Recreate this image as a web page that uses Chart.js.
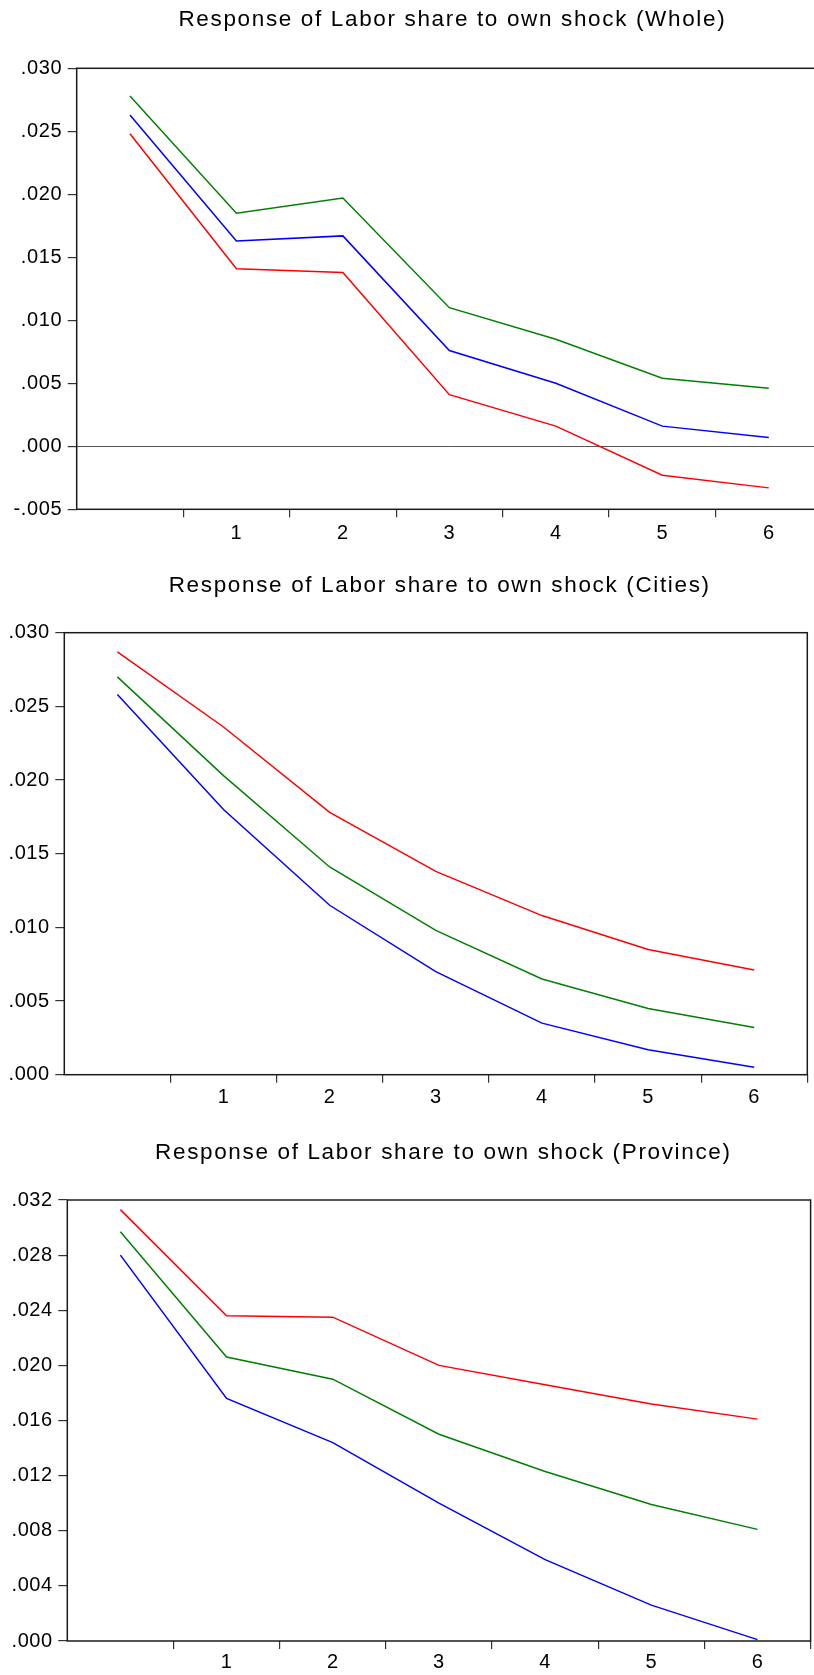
<!DOCTYPE html>
<html>
<head>
<meta charset="utf-8">
<script src="https://cdn.jsdelivr.net/npm/chart.js@4.4.1/dist/chart.umd.min.js"></script>
<style>
  html, body { margin: 0; padding: 0; background: #fff; overflow: hidden; width: 814px; height: 1675px; }
  body { position: relative; }
  canvas { position: absolute; left: 0; }
</style>
</head>
<body>
<canvas id="whole" width="830" height="560" style="top:0px"></canvas>
<canvas id="cities" width="814" height="560" style="top:560px"></canvas>
<canvas id="province" width="814" height="555" style="top:1120px"></canvas>
<script>
// Impulse-response horizon (period 0 is the impact period, left unlabelled)
const periods = [0, 1, 2, 3, 4, 5, 6];
const periodLabels = ['1', '2', '3', '4', '5', '6'];

// Whole sample
const wholeGreen = [0.0278, 0.0185, 0.0197, 0.0110, 0.0085, 0.0054, 0.0046];
const wholeBlue  = [0.0263, 0.0163, 0.0167, 0.0076, 0.0050, 0.0016, 0.0007];
const wholeRed   = [0.0248, 0.0141, 0.0138, 0.0041, 0.0016, -0.0023, -0.0033];
const wholeTicks = [-0.005, 0.000, 0.005, 0.010, 0.015, 0.020, 0.025, 0.030];

// Cities
const citiesRed   = [0.0287, 0.0236, 0.0178, 0.0138, 0.0108, 0.0085, 0.0071];
const citiesGreen = [0.0270, 0.0203, 0.0141, 0.0098, 0.0065, 0.0045, 0.0032];
const citiesBlue  = [0.0258, 0.0180, 0.0115, 0.0070, 0.0035, 0.0017, 0.0005];
const citiesTicks = [0.000, 0.005, 0.010, 0.015, 0.020, 0.025, 0.030];

// Province
const provinceRed   = [0.0313, 0.0236, 0.0235, 0.0200, 0.0186, 0.0172, 0.0161];
const provinceGreen = [0.0297, 0.0206, 0.0190, 0.0150, 0.0123, 0.0099, 0.0081];
const provinceBlue  = [0.0280, 0.0176, 0.0144, 0.0100, 0.0059, 0.0026, 0.0001];
const provinceTicks = [0.000, 0.004, 0.008, 0.012, 0.016, 0.020, 0.024, 0.028, 0.032];

const GREEN = '#008000', BLUE = '#0000ff', RED = '#ff0000';
const FONT = '"Liberation Sans", Arial, Helvetica, sans-serif';

Chart.defaults.font.family = FONT;
Chart.defaults.color = '#000';

// ".030" / "-.005" style labels
function fmt(v) {
  const s = Math.abs(v).toFixed(3).replace(/^0/, '');
  return (v < 0 ? '-' : '') + s;
}

// slightly wider glyph spacing for axis text
const spacingPlugin = {
  id: 'spacing',
  beforeDraw(chart) { chart.ctx.letterSpacing = '0.6px'; }
};

// horizontal reference line at zero
const zeroLinePlugin = {
  id: 'zeroLine',
  beforeDatasetsDraw(chart, args, opts) {
    if (!opts.show) return;
    const { ctx, chartArea: a, scales } = chart;
    const y = Math.round(scales.y.getPixelForValue(0)) + 0.5;
    ctx.save();
    ctx.strokeStyle = '#555';
    ctx.lineWidth = 1;
    ctx.beginPath();
    ctx.moveTo(a.left, y);
    ctx.lineTo(a.right, y);
    ctx.stroke();
    ctx.restore();
  }
};

// box around the plotting area
const framePlugin = {
  id: 'frame',
  afterDraw(chart) {
    const { ctx, chartArea: a } = chart;
    ctx.save();
    ctx.strokeStyle = '#1a1a1a';
    ctx.lineWidth = 1.5;
    ctx.strokeRect(a.left, a.top, a.right - a.left, a.bottom - a.top);
    ctx.restore();
  }
};

// panel heading centred over the plotting area
const headingPlugin = {
  id: 'heading',
  afterDraw(chart, args, opts) {
    const { ctx, chartArea: a } = chart;
    ctx.save();
    ctx.font = '22.5px ' + FONT;
    ctx.letterSpacing = '1.65px';
    ctx.fillStyle = '#000';
    ctx.textAlign = 'center';
    ctx.textBaseline = 'alphabetic';
    ctx.fillText(opts.text, (a.left + a.right) / 2 + opts.dx, opts.baseline);
    ctx.restore();
  }
};

function series(values, color) {
  return {
    data: periods.map((p, i) => ({ x: p, y: values[i] })),
    borderColor: color,
    borderWidth: 1.5,
    pointRadius: 0,
    tension: 0,
    fill: false
  };
}

function makePanel(cfg) {
  const xTickValues = [];
  for (let i = 0; i < periods.length; i++) {
    xTickValues.push(periods[i] + 0.5);
  }
  periodLabels.forEach(l => xTickValues.push(Number(l)));
  xTickValues.sort((a, b) => a - b);

  return new Chart(document.getElementById(cfg.id), {
    type: 'line',
    data: { datasets: cfg.lines.map(l => series(l[0], l[1])) },
    options: {
      responsive: false,
      animation: false,
      devicePixelRatio: 1,
      layout: { padding: { left: 0, top: cfg.top, right: cfg.padRight, bottom: 0 } },
      plugins: {
        legend: { display: false },
        tooltip: { enabled: false },
        heading: { text: cfg.title, baseline: cfg.titleBaseline, dx: cfg.titleDx },
        zeroLine: { show: !!cfg.zero }
      },
      scales: {
        x: {
          type: 'linear',
          min: -0.5,
          max: 6.5,
          afterBuildTicks(scale) {
            scale.ticks = xTickValues.map(v => ({ value: v }));
          },
          afterFit(scale) { scale.height = cfg.xHeight; },
          ticks: {
            autoSkip: false,
            maxRotation: 0,
            padding: cfg.xPad,
            font: { size: 20 },
            color: '#000',
            callback(v) {
              const idx = periodLabels.indexOf(String(v));
              return idx >= 0 ? periodLabels[idx] : '';
            }
          },
          grid: {
            drawOnChartArea: false,
            drawTicks: true,
            tickLength: 8,
            lineWidth: 1.2,
            color(ctx) {
              const v = ctx.tick ? ctx.tick.value : 0;
              return Math.abs(v % 1) === 0.5 ? '#333' : 'rgba(0,0,0,0)';
            }
          },
          border: { display: false }
        },
        y: {
          type: 'linear',
          min: cfg.ticks[0],
          max: cfg.ticks[cfg.ticks.length - 1],
          afterBuildTicks(scale) {
            scale.ticks = cfg.ticks.map(v => ({ value: v }));
          },
          afterFit(scale) { scale.width = cfg.left; },
          ticks: {
            autoSkip: false,
            padding: 5.5,
            font: { size: 20 },
            color: '#000',
            callback(v) { return fmt(v); }
          },
          grid: {
            drawOnChartArea: false,
            drawTicks: true,
            tickLength: 9,
            lineWidth: 1.2,
            color: '#333'
          },
          border: { display: false }
        }
      }
    },
    plugins: [spacingPlugin, zeroLinePlugin, framePlugin, headingPlugin]
  });
}

makePanel({
  id: 'whole',
  title: 'Response of Labor share to own shock (Whole)',
  lines: [[wholeGreen, GREEN], [wholeBlue, BLUE], [wholeRed, RED]],
  ticks: wholeTicks,
  left: 76.7, top: 68.3, xHeight: 560 - 509.3, padRight: 8, xPad: 4.5,
  titleBaseline: 26, titleDx: 3, zero: true
});

makePanel({
  id: 'cities',
  title: 'Response of Labor share to own shock (Cities)',
  lines: [[citiesGreen, GREEN], [citiesBlue, BLUE], [citiesRed, RED]],
  ticks: citiesTicks,
  left: 64.3, top: 72.7, xHeight: 560 - 514.7, padRight: 6.7, xPad: 2.5,
  titleBaseline: 32.3, titleDx: 3.9
});

makePanel({
  id: 'province',
  title: 'Response of Labor share to own shock (Province)',
  lines: [[provinceGreen, GREEN], [provinceBlue, BLUE], [provinceRed, RED]],
  ticks: provinceTicks,
  left: 67.3, top: 80, xHeight: 555 - 521, padRight: 3.4, xPad: 1.5,
  titleBaseline: 39.3, titleDx: 4.4
});
</script>
</body>
</html>
